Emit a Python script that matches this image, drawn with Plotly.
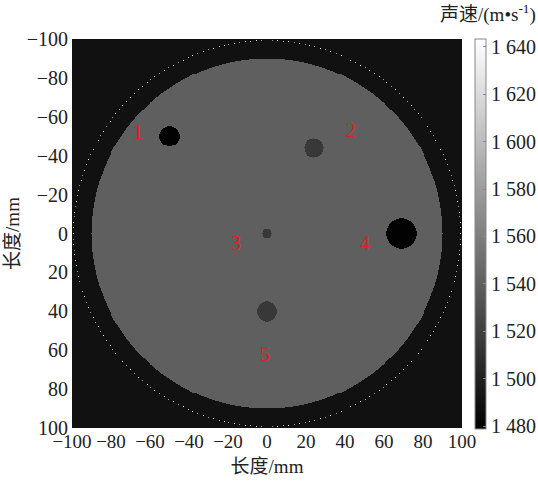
import numpy as np
import plotly.graph_objects as go

# Sound-speed phantom (m/s) on a 0.5 mm grid, -100..100 mm
grid_step = 0.5
background_speed = 1490
tissue_radius = 90
tissue_speed = 1540

# Inclusions: centre (mm), radius (mm), sound speed (m/s)
incl_x = [-50, 24, 0, 69, 0]
incl_y = [-50, -44, 0, 0, 40]
incl_r = [5.1, 5.0, 2.5, 7.6, 5.1]
incl_speed = [1480, 1515, 1515, 1480, 1515]

# Transducer ring
ring_radius = 99
ring_count = 224
ring_speed = [1640, 1580]

# Inclusion label positions (mm)
label_text = ["1", "2", "3", "4", "5"]
label_x = [-66, 43, -16, 50, -1]
label_y = [-52, -53, 5, 5, 62]

axis_ticks = [-100, -80, -60, -40, -20, 0, 20, 40, 60, 80, 100]
cbar_ticks = [1480, 1500, 1520, 1540, 1560, 1580, 1600, 1620, 1640]

coords = np.arange(-100, 100 + grid_step / 2, grid_step)
X, Y = np.meshgrid(coords, coords)
R = np.hypot(X, Y)

speed = np.full(X.shape, background_speed, dtype=int)
speed[R <= tissue_radius] = tissue_speed
for cx, cy, r, s in zip(incl_x, incl_y, incl_r, incl_speed):
    speed[np.hypot(X - cx, Y - cy) <= r] = s

theta = np.arange(ring_count) * 2 * np.pi / ring_count
for k, t in enumerate(theta):
    ix = int(round((ring_radius * np.cos(t) + 100) / grid_step))
    iy = int(round((ring_radius * np.sin(t) + 100) / grid_step))
    speed[iy, ix] = ring_speed[k % len(ring_speed)]

def tick_text(v):
    return f"\u2212{abs(v)}" if v < 0 else str(v)

def thousands(v):
    s = str(v)
    return s[:-3] + " " + s[-3:]

serif = "Liberation Serif, Noto Sans CJK SC, serif"

fig = go.Figure()
fig.add_trace(go.Heatmap(
    x=coords, y=coords, z=speed,
    zmin=1479, zmax=1643.5,
    colorscale=[[0, "rgb(0,0,0)"], [1, "rgb(255,255,255)"]],
    showscale=True,
    colorbar=dict(
        thickness=11, thicknessmode="pixels",
        len=390, lenmode="pixels",
        x=1.0333, xanchor="left", xpad=0,
        y=0.5, yanchor="middle", ypad=0,
        outlinewidth=1, outlinecolor="#888",
        tickmode="array", tickvals=cbar_ticks,
        ticktext=[thousands(v) for v in cbar_ticks],
        ticks="inside", ticklen=3, tickcolor="#888",
        tickfont=dict(family=serif, size=20, color="#222"),
    ),
    hoverinfo="skip",
))

for t, x, y in zip(label_text, label_x, label_y):
    fig.add_annotation(x=x, y=y, text=t, showarrow=False,
                       font=dict(family=serif, size=20, color="#e41e26"))

fig.add_annotation(xref="paper", yref="paper", x=1.195, xanchor="right",
                   y=1.0, yanchor="bottom", yshift=11,
                   text="声速/(m•s<sup>-1</sup>)", showarrow=False,
                   font=dict(family=serif, size=19, color="#222"))

fig.update_xaxes(
    range=[-100, 100], tickmode="array", tickvals=axis_ticks,
    ticktext=[tick_text(v) for v in axis_ticks], tickangle=0,
    tickfont=dict(family=serif, size=19, color="#222"),
    ticks="", showgrid=False, zeroline=False, ticklabelstandoff=0,
    automargin=False,
    title=dict(text="长度/mm", font=dict(family=serif, size=19, color="#222"), standoff=8),
)
fig.update_yaxes(
    range=[100, -100], tickmode="array", tickvals=axis_ticks,
    ticktext=[tick_text(v) for v in axis_ticks],
    tickfont=dict(family=serif, size=20, color="#222"),
    ticks="", showgrid=False, zeroline=False, ticklabelstandoff=3,
    automargin=False,
    title=dict(text="长度/mm", font=dict(family=serif, size=19, color="#222"), standoff=2),
)

fig.update_layout(
    width=538, height=485, autosize=False,
    margin=dict(l=72, r=76, t=39, b=57, autoexpand=False),
    paper_bgcolor="white", plot_bgcolor="#111",
    showlegend=False,
)

fig.write_html("out.html")
